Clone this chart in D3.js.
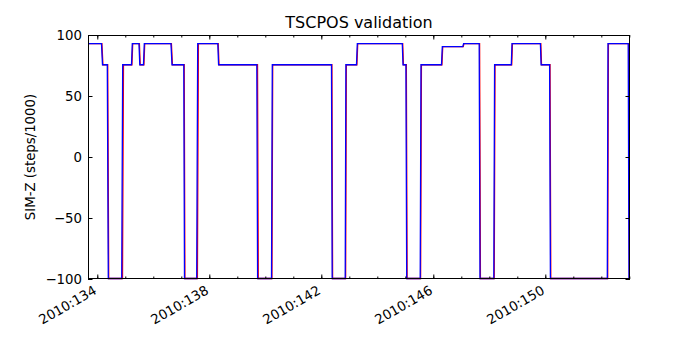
<!DOCTYPE html>
<html><head><meta charset="utf-8">
<script src="https://cdn.jsdelivr.net/npm/d3@7"></script>
<style>body{margin:0;background:#fff}svg{display:block}text{font-family:"DejaVu Sans",sans-serif;fill:#000}</style>
</head><body>
<script>
// Data: day of year 2010 (decimal) and SIM-Z (steps/1000)
const blueDay = [133.668,134.150,134.186,134.357,134.393,134.872,134.907,135.222,135.250,135.489,135.518,135.650,135.679,136.632,136.668,137.089,137.114,137.550,137.586,138.304,138.332,139.697,139.725,140.222,140.250,142.364,142.389,142.854,142.879,143.257,143.286,144.893,144.918,145.022,145.050,145.532,145.561,146.293,146.322,147.054,147.082,147.639,147.668,148.161,148.189,148.786,148.811,149.825,149.850,150.154,150.182,152.214,152.239,152.961,152.989,153.025];
const blueSimZ = [92.9,92.9,75.6,75.6,-99.6,-99.6,75.6,75.6,92.9,92.9,75.6,75.6,92.9,92.9,75.6,75.6,-99.6,-99.6,92.9,92.9,75.6,75.6,-99.6,-99.6,75.6,75.6,-99.6,-99.6,75.6,75.6,92.9,92.9,75.6,75.6,-99.6,-99.6,75.6,75.6,90.4,90.4,92.9,92.9,-99.6,-99.6,75.6,75.6,92.9,92.9,75.6,75.6,-99.6,-99.6,92.9,92.9,-99.6,-99.6];
const redDay = [133.668,134.165,134.201,134.372,134.408,134.900,134.935,135.237,135.265,135.504,135.533,135.665,135.694,136.647,136.683,137.104,137.129,137.575,137.611,138.319,138.347,139.722,139.750,140.237,140.265,142.379,142.404,142.869,142.894,143.272,143.301,144.908,144.933,145.037,145.065,145.547,145.576,146.308,146.337,147.069,147.097,147.654,147.683,148.176,148.204,148.801,148.826,149.840,149.865,150.169,150.197,152.229,152.254,152.976,153.004,153.025];
const redSimZ = [92.9,92.9,75.6,75.6,-99.6,-99.6,75.6,75.6,92.9,92.9,75.6,75.6,92.9,92.9,75.6,75.6,-99.6,-99.6,92.9,92.9,75.6,75.6,-99.6,-99.6,75.6,75.6,-99.6,-99.6,75.6,75.6,92.9,92.9,75.6,75.6,-99.6,-99.6,75.6,75.6,90.4,90.4,92.9,92.9,-99.6,-99.6,75.6,75.6,92.9,92.9,75.6,75.6,-99.6,-99.6,92.9,92.9,-99.6,-99.6];
const majorTicks = [134,138,142,146,150];
const majorLabels = ["2010:134","2010:138","2010:142","2010:146","2010:150"];
const minorTicks = [134,135,136,137,138,139,140,141,142,143,144,145,146,147,148,149,150,151,152,153];
const yTicks = [-100,-50,0,50,100];

const W=700,H=350, L=88,R=630,T=35,B=279;
const svg=d3.select("body").append("svg").attr("width",W).attr("height",H);
svg.append("rect").attr("width",W).attr("height",H).attr("fill","#fff");
const x=d3.scaleLinear().domain([133.668,153.025]).range([L,R]);
const y=d3.scaleLinear().domain([-100,100]).range([B,T]);

svg.append("clipPath").attr("id","c").append("rect").attr("x",L).attr("y",T-2).attr("width",R-L).attr("height",B-T+4);
const line=d3.line().x(d=>x(d[0])).y(d=>y(d[1]));
const g=svg.append("g").attr("clip-path","url(#c)");
g.append("path").datum(redDay.map((d,i)=>[d,redSimZ[i]])).attr("d",line).attr("fill","none").attr("stroke","#ff0000").attr("stroke-width",1.3);
g.append("path").datum(blueDay.map((d,i)=>[d,blueSimZ[i]])).attr("d",line).attr("fill","none").attr("stroke","#0000ff").attr("stroke-width",1.3);

const fmtMinus = v => (v<0?"\u2212":"")+Math.abs(v);
const bottomMajor=d3.axisBottom(x).tickValues(majorTicks).tickSize(-4.5).tickFormat("");
const bottomMinor=d3.axisBottom(x).tickValues(minorTicks).tickSize(-2.5).tickFormat("");
const topMajor=d3.axisTop(x).tickValues(majorTicks).tickSize(-4.5).tickFormat("");
const topMinor=d3.axisTop(x).tickValues(minorTicks).tickSize(-2.5).tickFormat("");
const leftAx=d3.axisLeft(y).tickValues(yTicks).tickSize(-4.5).tickFormat("");
const rightAx=d3.axisRight(y).tickValues(yTicks).tickSize(-4.5).tickFormat("");
function style(sel){sel.select(".domain").remove();sel.selectAll("line").attr("stroke","#000").attr("stroke-width",1);}
svg.append("g").attr("transform",`translate(0,${B})`).call(bottomMajor).call(style);
svg.append("g").attr("transform",`translate(0,${B})`).call(bottomMinor).call(style);
svg.append("g").attr("transform",`translate(0,${T})`).call(topMajor).call(style);
svg.append("g").attr("transform",`translate(0,${T})`).call(topMinor).call(style);
svg.append("g").attr("transform",`translate(${L},0)`).call(leftAx).call(style);
svg.append("g").attr("transform",`translate(${R},0)`).call(rightAx).call(style);
svg.append("rect").attr("x",L+0.5).attr("y",T+0.5).attr("width",R-L-1).attr("height",B-T-1).attr("fill","none").attr("stroke","#000").attr("stroke-width",1);

svg.selectAll(".yl").data(yTicks).join("text").attr("x",L-6).attr("y",d=>y(d)).attr("dy","0.36em")
  .attr("text-anchor","end").attr("font-size",13.3).text(fmtMinus);
svg.selectAll(".xl").data(majorTicks).join("text")
  .attr("transform",d=>`translate(${x(d)-5},${B+5}) rotate(-30)`)
  .attr("text-anchor","end").attr("dy","0.78em").attr("font-size",13.3).text((d,i)=>majorLabels[i]);
svg.append("text").attr("x",(L+R)/2).attr("y",28).attr("text-anchor","middle").attr("font-size",16).text("TSCPOS validation");
svg.append("text").attr("transform",`translate(35,${(T+B)/2}) rotate(-90)`).attr("text-anchor","middle").attr("font-size",13.3).text("SIM-Z (steps/1000)");
</script>
</body></html>
